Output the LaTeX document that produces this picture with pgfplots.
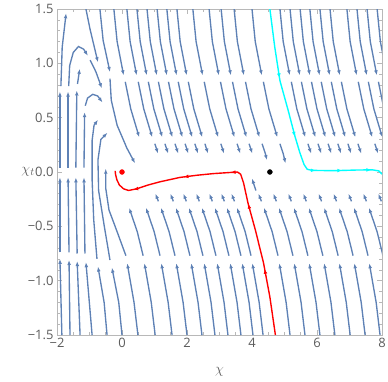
\documentclass[border=0pt]{standalone}
\usepackage{fontspec}
\setmainfont{Open Sans}
\usepackage{pgfplots}
\pgfplotsset{compat=1.18}
\usetikzlibrary{arrows.meta,decorations.markings}

\definecolor{sblue}{rgb}{0.368417,0.506779,0.709798}
\definecolor{cyn}{rgb}{0,1,1}
\definecolor{rd}{rgb}{1,0,0}
\definecolor{frm}{gray}{0.72}
\definecolor{tlab}{gray}{0.36}

\pgfplotsset{
  sline/.style={sblue, line width=1.35pt, -{Latex[length=5pt,width=3.8pt]}},
}
% one streamline piece, arrow at its end
\newcommand{\seg}[1]{\addplot[sline] coordinates {#1};}

\begin{document}
\begin{tikzpicture}
\useasboundingbox (-57bp,-47bp) rectangle (331bp,335bp);
\begin{axis}[
    scale only axis,
    width=325bp, height=326bp,
    xmin=-2, xmax=8, ymin=-1.5, ymax=1.5,
    xtick={-2,0,2,4,6,8},
    xticklabels={−2,0,2,4,6,8},
    ytick={-1.5,-1,-0.5,0,0.5,1,1.5},
    yticklabels={−1.5,−1.0,−0.5,0.0,0.5,1.0,1.5},
    minor xtick={-1.5,-1,-0.5,0.5,1,1.5,2.5,3,3.5,4.5,5,5.5,6.5,7,7.5},
    minor ytick={-1.4,-1.3,-1.2,-1.1,-0.9,-0.8,-0.7,-0.6,-0.4,-0.3,-0.2,-0.1,0.1,0.2,0.3,0.4,0.6,0.7,0.8,0.9,1.1,1.2,1.3,1.4},
    tick align=inside,
    major tick length=5bp, minor tick length=3bp,
    tick style={frm, line width=0.6pt},
    axis line style={frm, line width=0.9pt},
    tick label style={tlab, font=\fontsize{13}{15}\selectfont},
    xlabel={$\chi$}, ylabel={$\chi_t$},
    every axis x label/.style={at={(axis description cs:0.5,-0.113)}, anchor=center, color=tlab, font=\fontsize{15}{17}\selectfont},
    every axis y label/.style={at={(axis description cs:-0.089,0.5)}, anchor=center, color=tlab, font=\fontsize{15}{17}\selectfont},
]
% ---- left columns
\seg{(-1.85,-1.5) (-1.91,-0.80)}
\seg{(-1.91,-0.74) (-1.91,-0.05)}
\seg{(-1.91,0.04) (-1.91,0.74)}
\seg{(-1.88,0.79) (-1.84,1.15) (-1.72,1.46)}
\seg{(-1.60,-1.5) (-1.63,-0.81)}
\seg{(-1.63,-0.74) (-1.66,-0.05)}
\seg{(-1.66,0.04) (-1.66,0.74)}
\seg{(-1.64,0.79) (-1.61,0.98) (-1.50,1.10) (-1.34,1.155) (-1.18,1.13) (-1.05,1.07)}
\seg{(-1.29,-1.5) (-1.38,-0.82)}
\seg{(-1.38,-0.75) (-1.42,-0.05)}
\seg{(-1.42,0.04) (-1.39,0.75)}
\seg{(-1.37,0.81) (-1.30,0.95)}
\seg{(-0.92,-1.5) (-1.11,-0.83)}
\seg{(-1.14,-0.75) (-1.17,-0.05)}
\seg{(-1.17,0.04) (-1.15,0.55)}
\seg{(-1.13,0.61) (-1.06,0.68) (-0.90,0.715) (-0.75,0.70) (-0.60,0.64)}
\seg{(-1.11,1.5) (-0.98,1.31) (-0.74,1.01)}
\seg{(-0.98,1.03) (-0.80,0.92) (-0.62,0.77)}
\seg{(-0.68,1.5) (-0.58,1.21) (-0.37,0.92)}
\seg{(-0.37,0.86) (-0.33,0.66) (-0.15,0.43) (0.15,0.22) (0.40,0.08)}
\seg{(-0.46,-1.5) (-0.55,-1.2) (-0.74,-0.87)}
\seg{(-0.77,-0.80) (-0.87,-0.44) (-0.92,-0.07) (-0.92,0.29) (-0.86,0.43) (-0.74,0.48)}
\seg{(0.0,-1.5) (-0.10,-1.2) (-0.31,-0.88)}
\seg{(-0.37,-0.81) (-0.55,-0.49) (-0.72,-0.17) (-0.74,0.11) (-0.65,0.30) (-0.45,0.36)}
\seg{(0.49,-1.5) (0.37,-1.2) (0.16,-0.84)}
\seg{(0.12,-0.77) (-0.15,-0.55) (-0.40,-0.35) (-0.50,-0.15) (-0.50,0.03)}
% ---- upper half, falling to the right
\seg{(-0.25,1.5) (-0.15,1.2) (0.05,0.89)}
\seg{(0.10,0.83) (0.27,0.58) (0.53,0.32)}
\seg{(0.15,1.5) (0.25,1.2) (0.45,0.89)}
\seg{(0.50,0.83) (0.67,0.58) (0.93,0.32)}
\seg{(1.01,0.26) (1.11,0.17)}
\seg{(0.46,1.5) (0.56,1.2) (0.76,0.89)}
\seg{(0.81,0.83) (0.98,0.58) (1.24,0.32)}
\seg{(1.32,0.26) (1.42,0.17)}
\seg{(0.77,1.5) (0.87,1.2) (1.07,0.89)}
\seg{(1.12,0.83) (1.29,0.58) (1.55,0.32)}
\seg{(1.63,0.26) (1.73,0.17)}
\seg{(1.08,1.5) (1.18,1.2) (1.38,0.89)}
\seg{(1.43,0.83) (1.60,0.58) (1.86,0.32)}
\seg{(1.94,0.26) (2.04,0.17)}
\seg{(1.38,1.5) (1.48,1.2) (1.68,0.89)}
\seg{(1.73,0.83) (1.90,0.58) (2.16,0.32)}
\seg{(2.24,0.26) (2.34,0.17)}
\seg{(1.69,1.5) (1.79,1.2) (1.99,0.89)}
\seg{(2.04,0.83) (2.21,0.58) (2.47,0.32)}
\seg{(2.55,0.26) (2.65,0.17)}
\seg{(2.18,1.5) (2.28,1.2) (2.48,0.89)}
\seg{(2.53,0.83) (2.70,0.58) (2.96,0.32)}
\seg{(3.04,0.26) (3.14,0.17)}
\seg{(2.68,1.5) (2.78,1.2) (2.98,0.89)}
\seg{(3.03,0.83) (3.20,0.58) (3.46,0.32)}
\seg{(3.54,0.26) (3.64,0.17)}
\seg{(3.05,1.5) (3.15,1.2) (3.35,0.89)}
\seg{(3.40,0.83) (3.57,0.58) (3.83,0.32)}
\seg{(3.91,0.26) (4.01,0.17)}
\seg{(3.45,1.5) (3.55,1.2) (3.75,0.89)}
\seg{(3.80,0.83) (3.97,0.58) (4.23,0.32)}
\seg{(4.31,0.26) (4.41,0.17) (4.46,0.11)}
\seg{(4.00,1.5) (4.10,1.2) (4.30,0.89)}
\seg{(4.35,0.83) (4.52,0.58) (4.78,0.32)}
\seg{(4.86,0.26) (4.96,0.17) (5.03,0.08)}
\seg{(4.86,1.5) (4.96,1.2) (5.16,0.89)}
\seg{(5.21,0.83) (5.38,0.58) (5.64,0.32)}
\seg{(5.72,0.26) (5.82,0.17)}
\seg{(5.17,1.5) (5.27,1.2) (5.47,0.89)}
\seg{(5.52,0.83) (5.69,0.58) (5.95,0.32)}
\seg{(6.03,0.26) (6.13,0.17)}
\seg{(5.48,1.5) (5.58,1.2) (5.78,0.89)}
\seg{(5.83,0.83) (6.00,0.58) (6.26,0.32)}
\seg{(6.34,0.26) (6.44,0.17)}
\seg{(5.78,1.5) (5.88,1.2) (6.08,0.89)}
\seg{(6.13,0.83) (6.30,0.58) (6.56,0.32)}
\seg{(6.64,0.26) (6.74,0.17)}
\seg{(6.09,1.5) (6.19,1.2) (6.39,0.89)}
\seg{(6.44,0.83) (6.61,0.58) (6.87,0.32)}
\seg{(6.95,0.26) (7.05,0.17)}
\seg{(6.40,1.5) (6.50,1.2) (6.70,0.89)}
\seg{(6.75,0.83) (6.92,0.58) (7.18,0.32)}
\seg{(7.26,0.26) (7.36,0.17)}
\seg{(6.92,1.5) (7.02,1.2) (7.22,0.89)}
\seg{(7.27,0.83) (7.44,0.58) (7.70,0.32)}
\seg{(7.78,0.26) (7.88,0.17)}
\seg{(7.23,1.5) (7.33,1.2) (7.53,0.89)}
\seg{(7.58,0.83) (7.75,0.58) (8.01,0.32)}
\seg{(7.54,1.5) (7.64,1.2) (7.84,0.89)}
\seg{(7.89,0.83) (8.06,0.58) (8.32,0.32)}
\seg{(7.85,1.5) (7.95,1.2) (8.15,0.89)}
% ---- lower half, rising to the left
\seg{(1.02,-1.5) (0.90,-1.2) (0.69,-0.84)}
\seg{(0.65,-0.77) (0.47,-0.55) (0.22,-0.33)}
\seg{(1.54,-1.5) (1.42,-1.2) (1.21,-0.84)}
\seg{(1.17,-0.77) (0.99,-0.55) (0.74,-0.33)}
\seg{(2.00,-1.5) (1.88,-1.2) (1.67,-0.84)}
\seg{(1.63,-0.77) (1.45,-0.55) (1.20,-0.33)}
\seg{(1.12,-0.27) (1.03,-0.20)}
\seg{(2.46,-1.5) (2.34,-1.2) (2.13,-0.84)}
\seg{(2.09,-0.77) (1.91,-0.55) (1.66,-0.33)}
\seg{(1.58,-0.27) (1.49,-0.20)}
\seg{(2.86,-1.5) (2.74,-1.2) (2.53,-0.84)}
\seg{(2.49,-0.77) (2.31,-0.55) (2.06,-0.33)}
\seg{(1.98,-0.27) (1.89,-0.20)}
\seg{(3.26,-1.5) (3.14,-1.2) (2.93,-0.84)}
\seg{(2.89,-0.77) (2.71,-0.55) (2.46,-0.33)}
\seg{(2.38,-0.27) (2.29,-0.20)}
\seg{(3.66,-1.5) (3.54,-1.2) (3.33,-0.84)}
\seg{(3.29,-0.77) (3.11,-0.55) (2.86,-0.33)}
\seg{(2.78,-0.27) (2.69,-0.20)}
\seg{(4.03,-1.5) (3.91,-1.2) (3.70,-0.84)}
\seg{(3.66,-0.77) (3.48,-0.55) (3.23,-0.33)}
\seg{(3.15,-0.27) (3.06,-0.20)}
\seg{(4.34,-1.5) (4.22,-1.2) (4.01,-0.84)}
\seg{(3.97,-0.77) (3.79,-0.55) (3.54,-0.33)}
\seg{(3.46,-0.27) (3.37,-0.20)}
\seg{(5.17,-1.5) (5.05,-1.2) (4.84,-0.84)}
\seg{(4.80,-0.77) (4.62,-0.55) (4.37,-0.33)}
\seg{(4.29,-0.27) (4.20,-0.20)}
\seg{(4.12,-0.17) (4.00,-0.06)}
\seg{(5.63,-1.5) (5.51,-1.2) (5.30,-0.84)}
\seg{(5.26,-0.77) (5.08,-0.55) (4.83,-0.33)}
\seg{(4.75,-0.27) (4.66,-0.20)}
\seg{(6.09,-1.5) (5.97,-1.2) (5.76,-0.84)}
\seg{(5.72,-0.77) (5.54,-0.55) (5.29,-0.33)}
\seg{(5.21,-0.27) (5.12,-0.20)}
\seg{(6.55,-1.5) (6.43,-1.2) (6.22,-0.84)}
\seg{(6.18,-0.77) (6.00,-0.55) (5.75,-0.33)}
\seg{(5.67,-0.27) (5.58,-0.20)}
\seg{(7.02,-1.5) (6.90,-1.2) (6.69,-0.84)}
\seg{(6.65,-0.77) (6.47,-0.55) (6.22,-0.33)}
\seg{(6.14,-0.27) (6.05,-0.20)}
\seg{(7.48,-1.5) (7.36,-1.2) (7.15,-0.84)}
\seg{(7.11,-0.77) (6.93,-0.55) (6.68,-0.33)}
\seg{(6.60,-0.27) (6.51,-0.20)}
\seg{(7.94,-1.5) (7.82,-1.2) (7.61,-0.84)}
\seg{(7.57,-0.77) (7.39,-0.55) (7.14,-0.33)}
\seg{(7.06,-0.27) (6.97,-0.20)}
\seg{(8.40,-1.5) (8.28,-1.2) (8.07,-0.84)}
\seg{(8.03,-0.77) (7.85,-0.55) (7.60,-0.33)}
\seg{(7.52,-0.27) (7.43,-0.20)}
\seg{(8.49,-0.77) (8.31,-0.55) (8.06,-0.33)}
\seg{(7.98,-0.27) (7.89,-0.20)}
% ---- highlighted trajectories
\addplot[cyn, line width=1.4pt, postaction={decorate}, decoration={markings,
    mark=at position 0.29 with {\arrow{Latex[length=5pt,width=3.8pt]}},
    mark=at position 0.54 with {\arrow{Latex[length=5pt,width=3.8pt]}},
    mark=at position 0.72 with {\arrow{Latex[length=5pt,width=3.8pt]}},
    mark=at position 0.83 with {\arrow{Latex[length=5pt,width=3.8pt]}},
    mark=at position 0.95 with {\arrow{Latex[length=5pt,width=3.8pt]}}}]
  coordinates {(4.55,1.5) (4.70,1.15) (4.86,0.84) (5.11,0.57) (5.32,0.33) (5.47,0.18) (5.60,0.07) (5.70,0.025) (5.85,0.015) (6.5,0.012) (7.2,0.018) (7.7,0.02) (7.9,0.01) (8.0,-0.02)};
\addplot[rd, line width=1.4pt, postaction={decorate}, decoration={markings,
    mark=at position 0.22 with {\arrow{Latex[length=5pt,width=3.8pt]}},
    mark=at position 0.44 with {\arrow{Latex[length=5pt,width=3.8pt]}},
    mark=at position 0.575 with {\arrow{Latex[length=5pt,width=3.8pt]}},
    mark=at position 0.73 with {\arrow{Latex[length=5pt,width=3.8pt]}},
    mark=at position 0.90 with {\arrow{Latex[length=5pt,width=3.8pt]}}}]
  coordinates {(4.72,-1.5) (4.55,-1.15) (4.35,-0.83) (4.10,-0.53) (3.88,-0.29) (3.74,-0.10) (3.65,-0.02) (3.55,0.0) (3.3,-0.005) (2.8,-0.015) (2.3,-0.03) (1.78,-0.05) (1.17,-0.09) (0.8,-0.12) (0.45,-0.155) (0.2,-0.17) (0.05,-0.155) (-0.08,-0.12) (-0.16,-0.07) (-0.20,-0.02) (-0.21,0.01)};
% ---- fixed points
\addplot[only marks, mark=*, mark size=2.5pt, rd] coordinates {(0,0)};
\addplot[only marks, mark=*, mark size=2.5pt, black] coordinates {(4.55,0)};
\end{axis}
\end{tikzpicture}
\end{document}
